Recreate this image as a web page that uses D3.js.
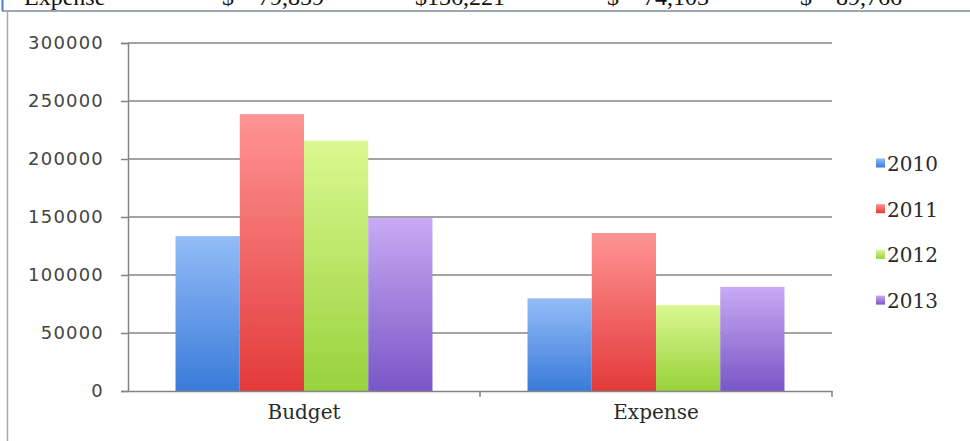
<!DOCTYPE html>
<html>
<head>
<meta charset="utf-8">
<script src="https://cdn.jsdelivr.net/npm/d3@7"></script>
<style>
  html, body { margin: 0; padding: 0; background: #fff; }
  svg { display: block; }
</style>
</head>
<body>
<svg id="chart" width="970" height="441"></svg>
<script>
// Budget vs expense by year
const categories = ["Budget", "Expense"];
const years = ["2010", "2011", "2012", "2013"];
const budgetValues = [133500, 238700, 215800, 149100];
const expenseValues = [79859, 136221, 74103, 89766];
const yTicks = [0, 50000, 100000, 150000, 200000, 250000, 300000];

const seriesValues = { Budget: budgetValues, Expense: expenseValues };
const colors = {
  "2010": ["#93bcf7", "#3a7bd9"],
  "2011": ["#ff9494", "#e33a3a"],
  "2012": ["#daf890", "#98d23c"],
  "2013": ["#c8aaf4", "#7a56c6"]
};

const svg = d3.select("#chart");

// table row above the chart (Expense totals), running off the top edge
const rowX = [24, 222, 415, 607, 800];
const fmt = d3.format(",");
const rowG = svg.append("g").attr("font-family", "Liberation Serif, Times New Roman, serif")
  .attr("font-size", 24).attr("fill", "#111");
rowG.append("text").attr("x", rowX[0]).attr("y", 5).text("Expense");
expenseValues.forEach((v, i) => {
  const s = fmt(v);
  rowG.append("text").attr("x", rowX[i + 1]).attr("y", 5)
    .attr("xml:space", "preserve").text(s.length < 7 ? "$    " + s : "$" + s);
});
svg.append("line").attr("x1", 2.5).attr("x2", 2.5).attr("y1", 0).attr("y2", 11)
  .attr("stroke", "#4a7fd0").attr("stroke-width", 2);
svg.append("line").attr("x1", 2).attr("x2", 970).attr("y1", 11).attr("y2", 11)
  .attr("stroke", "#7d8698").attr("stroke-width", 1.5);
svg.append("line").attr("x1", 7.5).attr("x2", 7.5).attr("y1", 11).attr("y2", 441)
  .attr("stroke", "#a9a9a9").attr("stroke-width", 1.5);

// plot geometry
const plotLeft = 128, plotRight = 832, plotTop = 43, plotBottom = 391;

const y = d3.scaleLinear().domain([0, 300000]).range([plotBottom, plotTop]);
const x0 = d3.scaleBand().domain(categories).range([plotLeft, plotRight]).padding(0);
const x1 = d3.scaleBand().domain(years)
  .range([x0.bandwidth() * 0.135, x0.bandwidth() * 0.865]).padding(0);

// gradients
const defs = svg.append("defs");
years.forEach(yr => {
  const g = defs.append("linearGradient").attr("id", "g" + yr)
    .attr("x1", 0).attr("y1", 0).attr("x2", 0).attr("y2", 1);
  g.append("stop").attr("offset", "0%").attr("stop-color", colors[yr][0]);
  g.append("stop").attr("offset", "100%").attr("stop-color", colors[yr][1]);
});

// gridlines
svg.append("g").selectAll("line").data(yTicks.filter(d => d > 0)).join("line")
  .attr("x1", plotLeft).attr("x2", plotRight)
  .attr("y1", d => y(d)).attr("y2", d => y(d))
  .attr("stroke", "#848484").attr("stroke-width", 1.5);

// bars
const groups = svg.append("g").selectAll("g").data(categories).join("g")
  .attr("transform", d => `translate(${x0(d)},0)`);
groups.selectAll("rect")
  .data(c => years.map((yr, i) => ({ yr, v: seriesValues[c][i] })))
  .join("rect")
  .attr("x", d => x1(d.yr))
  .attr("width", x1.bandwidth())
  .attr("y", d => y(d.v))
  .attr("height", d => plotBottom - y(d.v))
  .attr("fill", d => `url(#g${d.yr})`);

// y axis
const yAxis = d3.axisLeft(y).tickValues(yTicks).tickSize(7).tickPadding(17).tickFormat(d3.format("d"));
const ya = svg.append("g").attr("transform", `translate(${plotLeft},0)`).call(yAxis);
ya.select(".domain").attr("stroke", "#848484").attr("stroke-width", 1.5);
ya.selectAll(".tick line").attr("stroke", "#848484").attr("stroke-width", 1.5);
ya.selectAll(".tick text").attr("font-family", "DejaVu Sans, Verdana, sans-serif")
  .attr("font-size", 18).attr("letter-spacing", 1.2).attr("fill", "#444");

// x axis
const xAxis = d3.axisBottom(x0).tickSize(0).tickPadding(14);
const xa = svg.append("g").attr("transform", `translate(0,${plotBottom})`).call(xAxis);
xa.select(".domain").attr("stroke", "#848484").attr("stroke-width", 1.5);
xa.selectAll(".tick text").attr("font-family", "DejaVu Serif, Cambria, serif")
  .attr("font-size", 20).attr("fill", "#2a2a2a");
// boundary ticks between categories
xa.append("g").selectAll("line").data(categories).join("line")
  .attr("x1", d => x0(d) + x0.bandwidth()).attr("x2", d => x0(d) + x0.bandwidth())
  .attr("y1", 0).attr("y2", 6).attr("stroke", "#848484").attr("stroke-width", 1.5);

// legend
const legend = svg.append("g").attr("transform", "translate(876,163)");
const li = legend.selectAll("g").data(years).join("g")
  .attr("transform", (d, i) => `translate(0,${i * 45.7})`);
li.append("rect").attr("x", 0).attr("y", -4.5).attr("width", 9).attr("height", 9)
  .attr("fill", d => `url(#g${d})`);
li.append("text").attr("x", 11).attr("y", 8)
  .attr("font-family", "DejaVu Serif, Cambria, serif").attr("font-size", 20)
  .attr("fill", "#2a2a2a").text(d => d);
</script>
</body>
</html>
